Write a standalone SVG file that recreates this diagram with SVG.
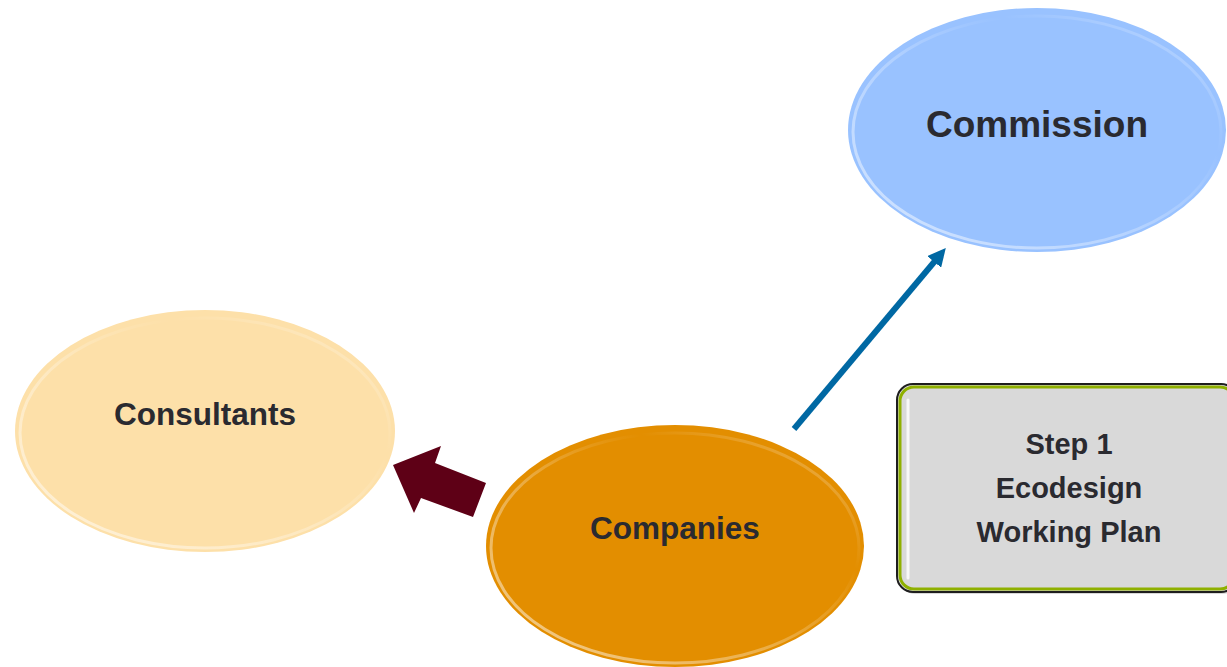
<svg xmlns="http://www.w3.org/2000/svg" width="1227" height="667" viewBox="0 0 1227 667">
<style>
  .lbl { font-family: "Liberation Sans", Arial, sans-serif; font-weight: bold; fill: #2a2a30; text-anchor: middle; }
  .big { font-size: 37px; }
  .mid { font-size: 31.5px; }
  .box { font-size: 29px; }
  .bevel { fill: none; stroke: url(#bevelGrad); stroke-width: 3; }
</style>
<defs>
  <marker id="blueHead" viewBox="0 0 10 10" refX="5" refY="5" markerWidth="3" markerHeight="3" orient="auto" markerUnits="strokeWidth">
    <path d="M0,0 L10,5 L0,10 z" fill="#0068a3"/>
  </marker>
  <linearGradient id="bevelGrad" x1="0" y1="1" x2="1" y2="0">
    <stop offset="0" stop-color="#ffffff" stop-opacity="0.6"/>
    <stop offset="0.45" stop-color="#ffffff" stop-opacity="0.25"/>
    <stop offset="0.7" stop-color="#ffffff" stop-opacity="0"/>
    <stop offset="0.9" stop-color="#ffffff" stop-opacity="0.25"/>
    <stop offset="1" stop-color="#ffffff" stop-opacity="0"/>
  </linearGradient>
</defs>
<rect width="1227" height="667" fill="#ffffff"/>

<g id="connectors">
  <line x1="794" y1="429" x2="940" y2="255" stroke="#0068a3" stroke-width="6" marker-end="url(#blueHead)"/>
  <polygon points="393,465 441,446 435,463 486,483 473,517 421,498 414,513" fill="#5e0016"/>
</g>

<g id="commission">
  <ellipse cx="1037" cy="130" rx="189" ry="122" fill="#99c2ff"/>
  <ellipse cx="1037" cy="132" rx="184" ry="116" class="bevel"/>
  <text x="1037" y="137" class="lbl big">Commission</text>
</g>

<g id="consultants">
  <ellipse cx="205" cy="431" rx="190" ry="121" fill="#fde0a9"/>
  <ellipse cx="205" cy="433" rx="185" ry="115" class="bevel"/>
  <text x="205" y="425" class="lbl mid">Consultants</text>
</g>

<g id="companies">
  <ellipse cx="675" cy="546" rx="189" ry="121" fill="#e38e00"/>
  <ellipse cx="675" cy="548" rx="184" ry="115" class="bevel"/>
  <text x="675" y="539" class="lbl mid">Companies</text>
</g>

<g id="step1">
  <rect x="899" y="387" width="340" height="207" rx="16" fill="#000" opacity="0.15"/>
  <rect x="897" y="384" width="340" height="208" rx="16" fill="#d9d9d9" stroke="#1e1e1e" stroke-width="2"/>
  <rect x="900" y="387" width="334" height="202" rx="14" fill="none" stroke="#8fb000" stroke-width="3"/>
  <line x1="908" y1="400" x2="908" y2="578" stroke="#ffffff" stroke-opacity="0.8" stroke-width="3" stroke-linecap="round"/>
  <text x="1069" y="454" class="lbl box">Step 1</text>
  <text x="1069" y="498" class="lbl box">Ecodesign</text>
  <text x="1069" y="542" class="lbl box">Working Plan</text>
</g>
</svg>
